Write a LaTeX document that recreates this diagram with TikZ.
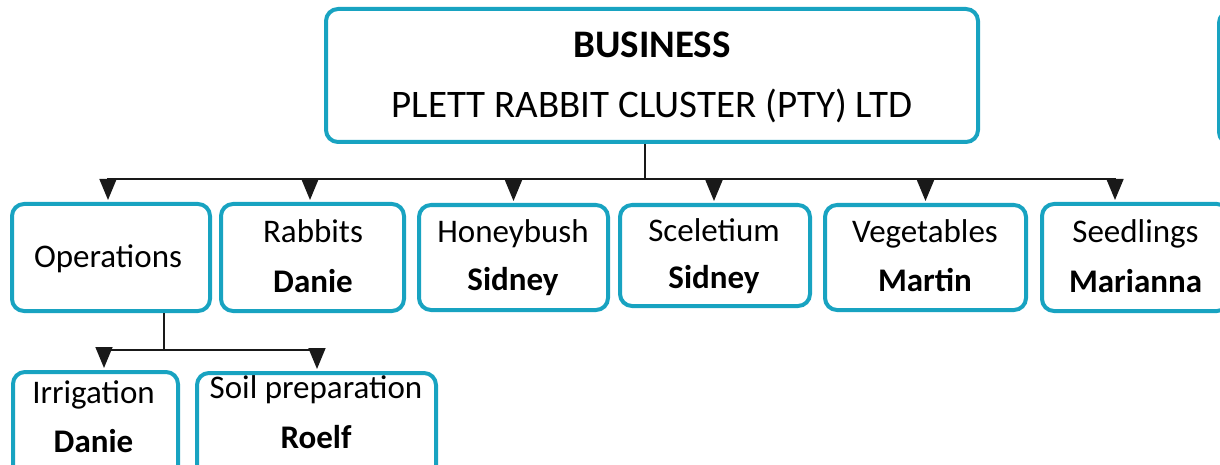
\documentclass[tikz,border=0pt]{standalone}
\usepackage{fontspec}
\setmainfont{Carlito}
\usetikzlibrary{arrows.meta}
\definecolor{teal1}{RGB}{24,163,193}
\definecolor{conn}{RGB}{25,25,25}
\tikzset{
  box/.style={draw=teal1, line width=4pt, rounded corners=12pt, fill=white,
    inner sep=0pt, anchor=center},
  big/.style={font=\fontsize{39}{47}\selectfont, anchor=base, inner sep=0pt},
  lbl/.style={font=\fontsize{33}{40}\selectfont, anchor=base, inner sep=0pt},
  who/.style={font=\fontsize{33}{40}\selectfont\bfseries, anchor=base, inner sep=0pt},
  link/.style={draw=conn, line width=1.6pt},
  arr/.style={link, -{Triangle[width=17pt,length=21pt]}, shorten >=2pt},
}
\begin{document}
\begin{tikzpicture}[x=1pt,y=-1pt]
\useasboundingbox (0,0) rectangle (1220,465);
\clip (0,0) rectangle (1220,465);
% boxes
\node[box, minimum width=652pt, minimum height=133pt] (top) at (652,75.5) {};
\node[box, minimum width=190pt, minimum height=133pt] (side) at (1314,77.5) {};
\node[box, minimum width=198pt, minimum height=107pt] (ops) at (111,257.5) {};
\node[box, minimum width=183pt, minimum height=107pt] (rab) at (312.5,257.5) {};
\node[box, minimum width=189pt, minimum height=105pt] (hon) at (513.5,257.5) {};
\node[box, minimum width=190pt, minimum height=101pt] (sce) at (715,255.5) {};
\node[box, minimum width=201pt, minimum height=105pt] (veg) at (925.5,257.5) {};
\node[box, minimum width=187pt, minimum height=107pt] (see) at (1135.5,257.5) {};
\node[box, minimum width=165pt, minimum height=107pt] (irr) at (95.5,425.5) {};
\node[box, minimum width=239pt, minimum height=107pt] (soi) at (316.5,426.5) {};
% texts
\node[big, font=\fontsize{39}{47}\selectfont\bfseries] (t1) at (652,58) {BUSINESS};
\node[big] (t2) at (652,118) {PLETT RABBIT CLUSTER (PTY) LTD};
\node[lbl] (o1) at (108,267) {Operations};
\node[lbl] (r1) at (313,242) {Rabbits};
\node[who] (r2) at (313,292) {Danie};
\node[lbl] (h1) at (513,242) {Honeybush};
\node[who] (h2) at (513,290) {Sidney};
\node[lbl] (s1) at (714,241) {Sceletium};
\node[who] (s2) at (714,288) {Sidney};
\node[lbl] (v1) at (925,242) {Vegetables};
\node[who] (v2) at (925,291) {Martin};
\node[lbl] (e1) at (1135.5,242) {Seedlings};
\node[who] (e2) at (1135.5,292) {Marianna};
\node[lbl] (i1) at (93.5,403) {Irrigation};
\node[who] (i2) at (93.5,452) {Danie};
\node[lbl] (p1) at (316,398) {Soil preparation};
\node[who] (p2) at (316,448) {Roelf};
% connectors
\coordinate (hub) at (645,179);
\draw[link] ([xshift=-7pt]top.south) -- (hub);
\draw[arr] (hub) -| ([xshift=-3pt]ops.north);
\draw[arr] (hub) -| ([xshift=-2.5pt]rab.north);
\draw[arr] (hub) -| (hon.north);
\draw[arr] (hub) -| ([xshift=-1pt]sce.north);
\draw[arr] (hub) -| (veg.north);
\draw[arr] (hub) -| ([xshift=-20.5pt]see.north);
\coordinate (hub2) at (164,350);
\draw[link] ([xshift=53pt]ops.south) -- (hub2);
\draw[arr] (hub2) -| ([xshift=8.5pt]irr.north);
\draw[arr] (hub2) -| ([xshift=0.5pt]soi.north);
\end{tikzpicture}
\end{document}
